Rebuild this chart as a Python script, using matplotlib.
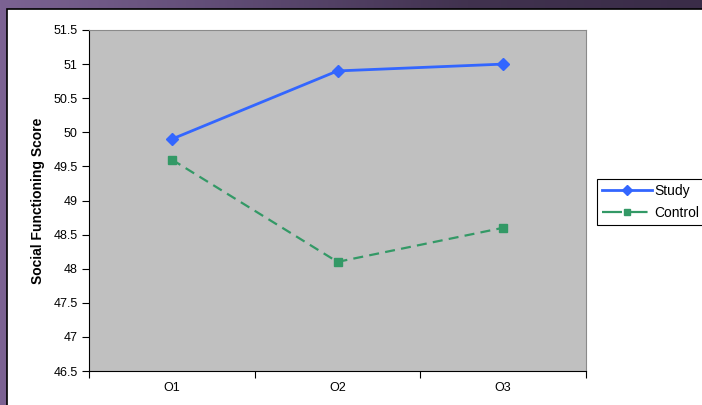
import matplotlib.pyplot as plt
import numpy as np
from matplotlib.patches import Rectangle
from matplotlib.colors import LinearSegmentedColormap

plt.rcParams['font.family'] = ['Liberation Sans', 'DejaVu Sans']

# time points and group means
occasions = ['O1', 'O2', 'O3']
study = [49.9, 50.9, 51.0]
control = [49.6, 48.1, 48.6]
y_ticks = [46.5, 47, 47.5, 48, 48.5, 49, 49.5, 50, 50.5, 51, 51.5]

W, H = 702, 405
fig = plt.figure(figsize=(W / 100, H / 100), dpi=100)

# slide backdrop: purple gradient with a white chart panel
bg = fig.add_axes([0, 0, 1, 1])
bg.set_xlim(0, W)
bg.set_ylim(H, 0)
bg.axis('off')
purple = LinearSegmentedColormap.from_list('slide', ['#7c6393', '#5f4b74', '#41324f', '#3a2c48'])
grad = np.linspace(0, 1, 256).reshape(1, -1)
bg.imshow(grad, cmap=purple, extent=[0, W, H, 0], aspect='auto', zorder=0)
bg.add_patch(Rectangle((7, 9), W, H, facecolor='white', edgecolor='black', lw=1.2, zorder=1))

ax = fig.add_axes([89 / W, 1 - 371 / H, (586 - 89) / W, (371 - 30) / H])
ax.set_facecolor('#c0c0c0')

x = np.arange(1, len(occasions) + 1)
ax.plot(x, study, color='#3366ff', lw=2, marker='D', ms=6.5, label='Study', zorder=3)
ax.plot(x, control, color='#339966', lw=1.6, ls=(0, (4.5, 2.8)), marker='s', ms=6,
        label='Control', zorder=3)

ax.set_xlim(0.5, len(occasions) + 0.5)
ax.set_ylim(46.5, 51.5)
ax.set_yticks(y_ticks)
ax.set_yticklabels([f'{v:g}' for v in y_ticks])

# category labels between boundary ticks
ax.set_xticks(np.arange(0.5, len(occasions) + 1, 1))
ax.set_xticklabels([])
ax.set_xticks(x, minor=True)
ax.set_xticklabels(occasions, minor=True)
ax.tick_params(axis='x', which='minor', length=0, pad=8, labelsize=9)
ax.tick_params(axis='x', which='major', direction='out', length=5, width=0.8)
ax.tick_params(axis='y', direction='out', length=5, width=0.8, labelsize=9, pad=3)

for side in ['top', 'right']:
    ax.spines[side].set_color('#8a8a8a')
    ax.spines[side].set_linewidth(0.8)
for side in ['left', 'bottom']:
    ax.spines[side].set_color('black')
    ax.spines[side].set_linewidth(0.8)

ax.set_ylabel('Social Functioning Score', fontsize=10, fontweight='bold', labelpad=6)

leg = fig.legend(loc='upper left', bbox_to_anchor=(597 / W, 1 - 179 / H), fontsize=10,
                 frameon=True, fancybox=False, edgecolor='black', framealpha=1,
                 handlelength=3.6, handletextpad=0.15, borderpad=0.35, labelspacing=0.6,
                 borderaxespad=0)
leg.get_frame().set_linewidth(0.8)
for h in leg.legend_handles:
    h.set_markersize(5)
# long dashes so the legend sample reads as two segments around the marker
leg.legend_handles[1].set_linestyle((0, (9, 2.5)))

fig.savefig('out.png', dpi=100)
